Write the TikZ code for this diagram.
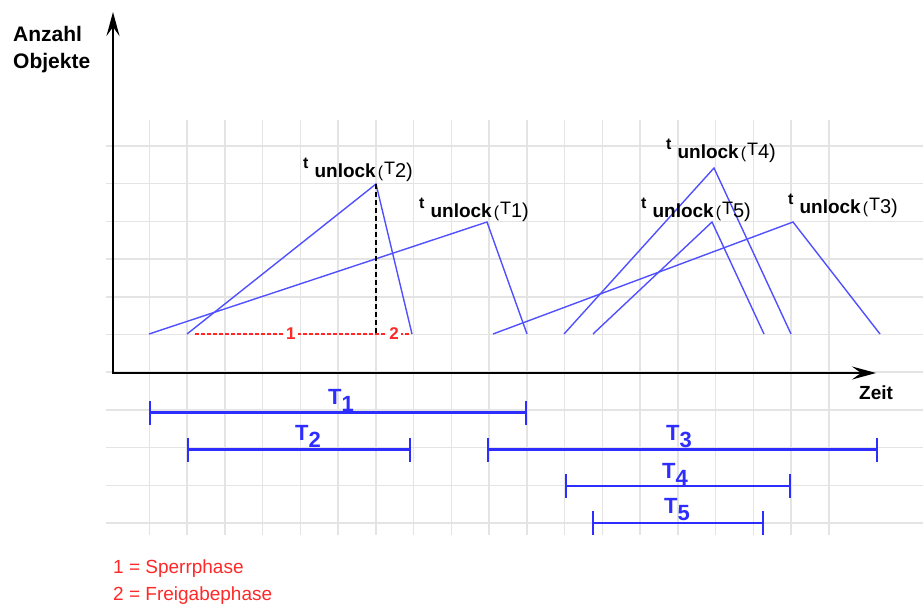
\documentclass[tikz,border=0pt]{standalone}
\usepackage{fontspec}
\setmainfont{Liberation Sans}
\usepackage{xcolor}
\usetikzlibrary{arrows.meta}

\definecolor{gridgray}{RGB}{228,228,228}
\definecolor{rampblue}{RGB}{80,80,255}
\definecolor{spanblue}{RGB}{45,45,255}
\definecolor{phasered}{RGB}{255,40,40}

\newcommand{\fsz}[1]{\fontsize{#1}{#1}\selectfont}
\newcommand{\tunlock}[1]{{\fsz{16}\bfseries\raisebox{9pt}{t}}\hspace{6pt}{\fsz{19}\bfseries unlock}\hspace{2pt}{\fsz{16}(}\hspace{1pt}{\fsz{18}\raisebox{3pt}{T}}{\fsz{20}#1)}}
\newcommand{\tspan}[1]{T\raisebox{-7pt}{#1}}

\begin{document}
\begin{tikzpicture}[
  x=1pt, y=-1pt,
  >={Stealth[length=24pt, width=13pt, inset=9pt]},
  grid/.style={gridgray, line width=1.5pt},
  axis/.style={line width=2.2pt, line join=miter},
  axlbl/.style={inner sep=0pt, font=\fsz{21}\bfseries},
  ramp/.style={rampblue, line width=1.4pt},
  drop/.style={black, line width=1.1pt, dash pattern=on 5pt off 3pt},
  phase/.style={phasered, line width=1.2pt, dash pattern=on 4pt off 2pt},
  phnum/.style={fill=white, inner sep=2pt, text=phasered, font=\fsz{17}\bfseries},
  peak/.style={inner sep=0pt, anchor=base west},
  span/.style={spanblue, line width=2.8pt, {Bar[width=24pt, line width=2pt]}-{Bar[width=24pt, line width=2pt]}},
  spanlbl/.style={inner sep=0pt, anchor=base, text=spanblue, font=\fsz{22}\bfseries},
  legend/.style={inner sep=0pt, anchor=base west, text=phasered, font=\fsz{19}},
]
  \useasboundingbox (0,0) rectangle (923,606);

  % ---------------- grid ----------------
  \foreach \k in {0,...,10}
    \draw[grid] (106,{146+37.7*\k}) -- (923,{146+37.7*\k});
  \foreach \k in {1,...,19}
    \draw[grid] ({111.5+37.75*\k},120) -- ({111.5+37.75*\k},535);

  % ---------------- axes ----------------
  \coordinate (O) at (113,373);
  \coordinate (ytip) at (113,12);
  \coordinate (xtip) at (876,373);
  \draw[axis, <->] (ytip) -- (O) -- (xtip);
  \node[axlbl, anchor=base west] (anz) at (13,41.7) {Anzahl};
  \node[axlbl, anchor=base west] (obj) at (13,68) {Objekte};
  \node[axlbl, anchor=base west, font=\fsz{19}\bfseries] (zeit) at (859,399) {Zeit};

  % ---------------- object counts ----------------
  \coordinate (a1) at (149,334); \coordinate (p1) at (487,222); \coordinate (e1) at (527,334);
  \coordinate (a2) at (187,334); \coordinate (p2) at (376,184); \coordinate (e2) at (412,334);
  \coordinate (a3) at (493,334); \coordinate (p3) at (793,222); \coordinate (e3) at (880,334);
  \coordinate (a4) at (564,334); \coordinate (p4) at (714,168); \coordinate (e4) at (791,334);
  \coordinate (a5) at (593,334); \coordinate (p5) at (712,222); \coordinate (e5) at (764,334);
  \draw[ramp] (a1) -- (p1) -- (e1);
  \draw[ramp] (a2) -- (p2) -- (e2);
  \draw[ramp] (a3) -- (p3) -- (e3);
  \draw[ramp] (a4) -- (p4) -- (e4);
  \draw[ramp] (a5) -- (p5) -- (e5);

  % phases of T2
  \coordinate (f2) at (376,334);
  \coordinate (r0) at (195,334);
  \coordinate (r1) at (411,334);
  \draw[drop] (p2) -- (f2);
  \draw[phase] (r0) -- node[phnum, pos=0.53] (ph1) {1} (f2) -- node[phnum, pos=0.52] (ph2) {2} (r1);

  \node[peak] (u2) at (303,177) {\tunlock{2}};
  \node[peak] (u1) at (419,217) {\tunlock{1}};
  \node[peak] (u4) at (666,158) {\tunlock{4}};
  \node[peak] (u5) at (641,217) {\tunlock{5}};
  \node[peak] (u3) at (788,213) {\tunlock{3}};

  % ---------------- transaction spans ----------------
  \coordinate (s1a) at (149,412.5); \coordinate (s1b) at (527,412.5);
  \coordinate (s2a) at (187,449.5); \coordinate (s2b) at (411,449.5);
  \coordinate (s3a) at (487,449.5); \coordinate (s3b) at (878,449.5);
  \coordinate (s4a) at (565,486);   \coordinate (s4b) at (791,486);
  \coordinate (s5a) at (592,523);   \coordinate (s5b) at (764,523);
  \draw[span] (s1a) -- (s1b);
  \draw[span] (s2a) -- (s2b);
  \draw[span] (s3a) -- (s3b);
  \draw[span] (s4a) -- (s4b);
  \draw[span] (s5a) -- (s5b);
  \node[spanlbl] (t1) at (341,404) {\tspan{1}};
  \node[spanlbl] (t2) at (308,440) {\tspan{2}};
  \node[spanlbl] (t3) at (679,440) {\tspan{3}};
  \node[spanlbl] (t4) at (675,478) {\tspan{4}};
  \node[spanlbl] (t5) at (677,513) {\tspan{5}};

  % ---------------- legend ----------------
  \node[legend] (leg1) at (113,573) {1 = Sperrphase};
  \node[legend] (leg2) at (113,600) {2 = Freigabephase};
\end{tikzpicture}
\end{document}
